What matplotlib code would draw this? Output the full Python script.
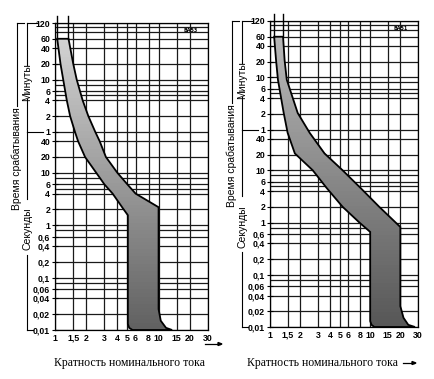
import numpy as np
import matplotlib
matplotlib.use('Agg')
from matplotlib import pyplot as plt
from matplotlib.patches import Polygon

# time scale (seconds) with printed labels: minutes above 1 min, seconds below
time_ticks = [7200, 3600, 2400, 1200, 600, 360, 240, 120, 60,
              40, 20, 10, 6, 4, 2, 1, 0.6, 0.4, 0.2, 0.1, 0.06, 0.04, 0.02, 0.01]
time_labels = ['120', '60', '40', '20', '10', '6', '4', '2', '1',
               '40', '20', '10', '6', '4', '2', '1', '0,6', '0,4', '0,2', '0,1',
               '0,06', '0,04', '0,02', '0,01']
extra_lines = [6000, 4800, 480, 300, 8, 5, 0.8, 0.08]

mult_ticks = [1, 1.5, 2, 3, 4, 5, 6, 8, 10, 15, 20, 30]
mult_labels = ['1', '1,5', '2', '3', '4', '5', '6', '8', '10', '15', '20', '30']

# left chart, band 5..10 In
c_left_t = [3600, 1200, 600, 240, 120, 60, 40, 20, 10, 6, 4, 2, 1.55, 0.013, 0.011, 0.01]
c_left_x = [1.05, 1.13, 1.2, 1.3, 1.4, 1.56, 1.67, 1.95, 2.5, 3.0, 3.6, 4.6, 5.05, 5.05, 5.2, 5.6]
c_right_t = [3600, 1200, 600, 240, 120, 60, 40, 20, 10, 6, 4, 2.2, 0.025, 0.015, 0.011, 0.01]
c_right_x = [1.35, 1.5, 1.62, 1.85, 2.1, 2.45, 2.7, 3.1, 4.0, 5.0, 6.0, 10, 10, 10.5, 11.8, 13.5]

# right chart, band 10..20 In
d_left_t = [3600, 1260, 540, 125, 52, 21, 10, 4.6, 2, 1, 0.66, 0.013, 0.011, 0.01]
d_left_x = [1.1, 1.15, 1.2, 1.37, 1.5, 1.77, 2.67, 3.67, 5.3, 7.8, 10, 10, 10.3, 11]
d_right_t = [3600, 1260, 540, 125, 52, 21, 10, 4.6, 2, 0.82, 0.025, 0.015, 0.011, 0.01]
d_right_x = [1.35, 1.4, 1.47, 1.89, 2.49, 3.5, 5.3, 8, 12.3, 20, 20, 21.5, 24, 28]

W, H = 435, 379
LABEL_FONT = 'Liberation Sans'


def draw_panel(ax, lt, lx, rt, rx, tag, shade_top, shade_bottom, width_px):
    ax.set_xscale('log')
    ax.set_yscale('log')
    ax.set_xlim(1, 30)
    ax.set_ylim(0.01, 7200)

    # grid
    for x in mult_ticks:
        ax.axvline(x, color='#1a1a1a', lw=0.9, zorder=1)
    for t in time_ticks + extra_lines:
        ax.axhline(t, color='#1a1a1a', lw=0.9, zorder=1)

    # band
    xs = list(lx) + list(rx)[::-1]
    ts = list(lt) + list(rt)[::-1]
    poly = Polygon(np.column_stack([xs, ts]), closed=True, facecolor='none',
                   edgecolor='black', lw=1.3, zorder=4)
    ax.add_patch(poly)
    ye = np.logspace(-2, np.log10(3600), 80)
    xe = np.array([1, 30])
    shade = np.linspace(shade_bottom, shade_top, 79).reshape(-1, 1)
    mesh = ax.pcolormesh(xe, ye, shade, cmap='gray', vmin=0, vmax=1, zorder=3,
                         shading='flat')
    mesh.set_clip_path(poly)

    # boundary lines running up past the top
    for x in (lx[0], rx[0]):
        ax.plot([x, x], [lt[0], 9800], color='black', lw=1.0, clip_on=False, zorder=4)

    ax.text(0.93, 0.985, tag, transform=ax.transAxes, fontsize=3.5,
            fontweight='bold', ha='right', va='top', zorder=5)

    ax.set_xticks(mult_ticks)
    ax.set_xticklabels(mult_labels)
    ax.xaxis.set_minor_locator(plt.NullLocator())
    ax.set_yticks(time_ticks)
    ax.set_yticklabels(time_labels)
    ax.yaxis.set_minor_locator(plt.NullLocator())
    ax.tick_params(axis='y', direction='inout', length=4, width=0.8, pad=1.5,
                   labelsize=6.3)
    ax.tick_params(axis='x', length=0, pad=2.8, labelsize=6.3)
    for lab in ax.get_xticklabels() + ax.get_yticklabels():
        lab.set_fontfamily(LABEL_FONT)
        lab.set_fontweight('bold')
    for s in ax.spines.values():
        s.set_linewidth(0.9)

    # bracket annotations on the left of the time scale
    tr = ax.get_yaxis_transform()
    d1 = -38 / width_px
    d2 = -28 / width_px
    kw = dict(color='black', lw=0.8, transform=tr, clip_on=False)
    ax.plot([d1, d1], [7200, 190], **kw)
    ax.plot([d1, d1 + 7 / width_px], [7200, 7200], **kw)
    ax.text(d1, 19, 'Время срабатывания', transform=tr, rotation=90,
            ha='center', va='center', fontsize=7.5, family=LABEL_FONT)
    ax.plot([d2, d2], [7200, 1130], **kw)
    ax.plot([d2, d2 + 11 / width_px], [7200, 7200], **kw)
    ax.text(d2, 537, 'Минуты', transform=tr, rotation=90,
            ha='center', va='center', fontsize=7.5, family=LABEL_FONT)
    ax.plot([d2, d2], [253, 60], **kw)
    ax.plot([d2, d2 + 16 / width_px], [60, 60], **kw)
    ax.plot([d2, d2], [60, 3.2], **kw)
    ax.text(d2, 0.85, 'Секунды', transform=tr, rotation=90,
            ha='center', va='center', fontsize=7.5, family=LABEL_FONT)
    ax.plot([d2, d2], [0.27, 0.01], **kw)
    ax.plot([d2, d2 + 6 / width_px], [0.01, 0.01], **kw)


fig = plt.figure(figsize=(W / 100, H / 100), dpi=100)
fig.patch.set_facecolor('white')

ax1 = fig.add_axes([55 / W, 1 - 330 / H, 153 / W, 307 / H])
ax2 = fig.add_axes([270 / W, 1 - 327 / H, 148 / W, 306 / H])

draw_panel(ax1, c_left_t, c_left_x, c_right_t, c_right_x, 'ВА53', 0.82, 0.38, 153)
draw_panel(ax2, d_left_t, d_left_x, d_right_t, d_right_x, 'ВА51', 0.72, 0.34, 148)

fig.text(130 / W, 1 - 363 / H, 'Кратность номинального тока', ha='center', va='center',
         fontsize=8.5, family='Liberation Serif')
fig.text(323 / W, 1 - 363 / H, 'Кратность номинального тока', ha='center', va='center',
         fontsize=8.5, family='Liberation Serif')
fig.add_artist(plt.Line2D([205 / W, 220 / W], [1 - 344 / H, 1 - 344 / H],
                          color='black', lw=0.9))
fig.add_artist(plt.Line2D([403 / W, 414 / W], [1 - 363 / H, 1 - 363 / H],
                          color='black', lw=0.9))
fig.add_artist(plt.Polygon([[218 / W, 1 - 342.5 / H], [222 / W, 1 - 344 / H],
                            [218 / W, 1 - 345.5 / H]], closed=True, color='black'))
fig.add_artist(plt.Polygon([[412 / W, 1 - 361.5 / H], [416 / W, 1 - 363 / H],
                            [412 / W, 1 - 364.5 / H]], closed=True, color='black'))

fig.savefig('out.png', dpi=100, facecolor='white')
